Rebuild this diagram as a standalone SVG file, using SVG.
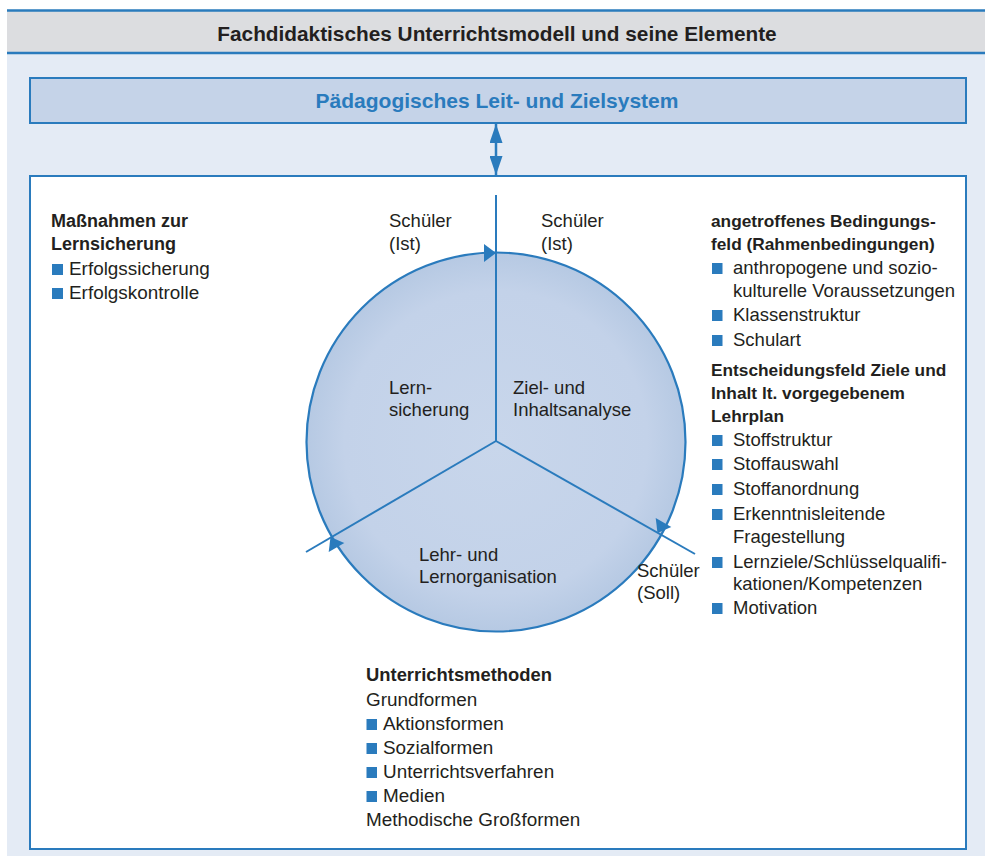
<svg xmlns="http://www.w3.org/2000/svg" width="985" height="856" viewBox="0 0 985 856">
<defs>
<style>
.t{font-family:"Liberation Sans",Arial,sans-serif;font-size:18.5px;fill:#231f20}
.b{font-family:"Liberation Sans",Arial,sans-serif;font-size:18px;font-weight:bold;fill:#231f20}
.br{font-size:17.3px}
.m{font-size:18.9px}
.blue{stroke:#2a7bbd}
.ln{stroke:#2a7bbd;fill:none}
.ah{fill:#2a7bbd;stroke:none}
.sq{fill:#2a7bbd}
</style>
<radialGradient id="cg" cx="0.5" cy="0.5" r="0.5">
<stop offset="0" stop-color="#c8d6eb"/>
<stop offset="0.8" stop-color="#c3d2e9"/>
<stop offset="1" stop-color="#b6c9e3"/>
</radialGradient>
<marker id="dh" viewBox="0 0 19 13" refX="19" refY="6.5" markerWidth="19" markerHeight="13" markerUnits="userSpaceOnUse" orient="auto-start-reverse">
<path d="M0,0 L19,6.5 L0,13 Z" fill="#2a7bbd"/>
</marker>
</defs>
<rect width="985" height="856" fill="#ffffff"/>
<g id="panel">
<rect x="7" y="53" width="978" height="803" fill="#e4ebf5"/>
<rect x="7" y="10" width="978" height="43" fill="#dcdde0"/>
<line x1="7" y1="10.5" x2="985" y2="10.5" class="ln" stroke-width="2.5"/>
<line x1="7" y1="53" x2="985" y2="53" class="ln" stroke-width="2.5"/>
<text x="497" y="41" text-anchor="middle" class="b" style="font-size:20.8px">Fachdidaktisches Unterrichtsmodell und seine Elemente</text>
</g>
<g id="leitsystem">
<rect x="30" y="78" width="936" height="45" style="fill:#c5d3e8" class="blue" stroke-width="2"/>
<text x="497" y="108" text-anchor="middle" class="b" style="font-size:21px;fill:#2a7bbd">Pädagogisches Leit- und Zielsystem</text>
</g>
<g id="mainbox">
<rect x="30" y="176" width="936" height="673" style="fill:#ffffff" class="blue" stroke-width="2"/>
</g>
<g id="circle">
<circle cx="496" cy="442" r="189.5" style="fill:url(#cg)" class="blue" stroke-width="2.2"/>
</g>
<g id="connectors">
<line x1="496" y1="124" x2="496" y2="175" class="ln" stroke-width="2.5" marker-start="url(#dh)" marker-end="url(#dh)"/>
<line x1="496" y1="195" x2="496" y2="441" class="ln" stroke-width="2"/>
<line x1="496" y1="441" x2="306" y2="552" class="ln" stroke-width="2"/>
<line x1="496" y1="441" x2="695" y2="554" class="ln" stroke-width="2"/>
<polygon class="ah" points="496,253 484,244 484,262"/>
<polygon class="ah" points="657.5,533 671.3,527.1 655.7,518.1"/>
<polygon class="ah" points="330.5,537 328.7,551.9 344.3,542.9"/>
</g>
<g id="sectors">
<text class="t" x="389" y="227">Schüler</text>
<text class="t" x="389" y="250">(Ist)</text>
<text class="t" x="541" y="227">Schüler</text>
<text class="t" x="541" y="250">(Ist)</text>
<text class="t" x="389" y="394">Lern-</text>
<text class="t" x="389" y="416">sicherung</text>
<text class="t" x="513" y="394">Ziel- und</text>
<text class="t" x="513" y="416">Inhaltsanalyse</text>
<text class="t" x="419" y="561">Lehr- und</text>
<text class="t" x="419" y="583">Lernorganisation</text>
<text class="t" x="637" y="577">Schüler</text>
<text class="t" x="637" y="599">(Soll)</text>
</g>
<g id="lernsicherung">
<text class="b" x="51" y="227">Maßnahmen zur</text>
<text class="b" x="51" y="250">Lernsicherung</text>
<rect class="sq" x="52" y="264" width="11" height="11"/>
<text class="t m" x="69" y="275">Erfolgssicherung</text>
<rect class="sq" x="52" y="288" width="11" height="11"/>
<text class="t m" x="69" y="299">Erfolgskontrolle</text>
</g>
<g id="bedingungsfeld">
<text class="b br" x="711" y="227">angetroffenes Bedingungs-</text>
<text class="b br" x="711" y="250">feld (Rahmenbedingungen)</text>
<rect class="sq" x="712" y="263" width="10.5" height="11"/>
<text class="t" x="733" y="274">anthropogene und sozio-</text>
<text class="t" x="733" y="297">kulturelle Voraussetzungen</text>
<rect class="sq" x="712" y="310" width="10.5" height="11"/>
<text class="t" x="733" y="321">Klassenstruktur</text>
<rect class="sq" x="712" y="335" width="10.5" height="11"/>
<text class="t" x="733" y="346">Schulart</text>
</g>
<g id="entscheidungsfeld">
<text class="b br" x="711" y="376">Entscheidungsfeld Ziele und</text>
<text class="b br" x="711" y="399">Inhalt lt. vorgegebenem</text>
<text class="b br" x="711" y="422">Lehrplan</text>
<rect class="sq" x="712" y="435" width="10.5" height="11"/>
<text class="t" x="733" y="446">Stoffstruktur</text>
<rect class="sq" x="712" y="459" width="10.5" height="11"/>
<text class="t" x="733" y="470">Stoffauswahl</text>
<rect class="sq" x="712" y="484" width="10.5" height="11"/>
<text class="t" x="733" y="495">Stoffanordnung</text>
<rect class="sq" x="712" y="509" width="10.5" height="11"/>
<text class="t" x="733" y="520">Erkenntnisleitende</text>
<text class="t" x="733" y="543">Fragestellung</text>
<rect class="sq" x="712" y="557" width="10.5" height="11"/>
<text class="t" x="733" y="568">Lernziele/Schlüsselqualifi-</text>
<text class="t" x="733" y="590">kationen/Kompetenzen</text>
<rect class="sq" x="712" y="603" width="10.5" height="11"/>
<text class="t" x="733" y="614">Motivation</text>
</g>
<g id="methoden">
<text class="b" x="366" y="681" style="font-size:18.4px">Unterrichtsmethoden</text>
<text class="t m" x="366" y="706">Grundformen</text>
<rect class="sq" x="366.5" y="719" width="10.5" height="11"/>
<text class="t m" x="383" y="730">Aktionsformen</text>
<rect class="sq" x="366.5" y="743" width="10.5" height="11"/>
<text class="t m" x="383" y="754">Sozialformen</text>
<rect class="sq" x="366.5" y="767" width="10.5" height="11"/>
<text class="t m" x="383" y="778">Unterrichtsverfahren</text>
<rect class="sq" x="366.5" y="791" width="10.5" height="11"/>
<text class="t m" x="383" y="802">Medien</text>
<text class="t m" x="366" y="826">Methodische Großformen</text>
</g>
</svg>
